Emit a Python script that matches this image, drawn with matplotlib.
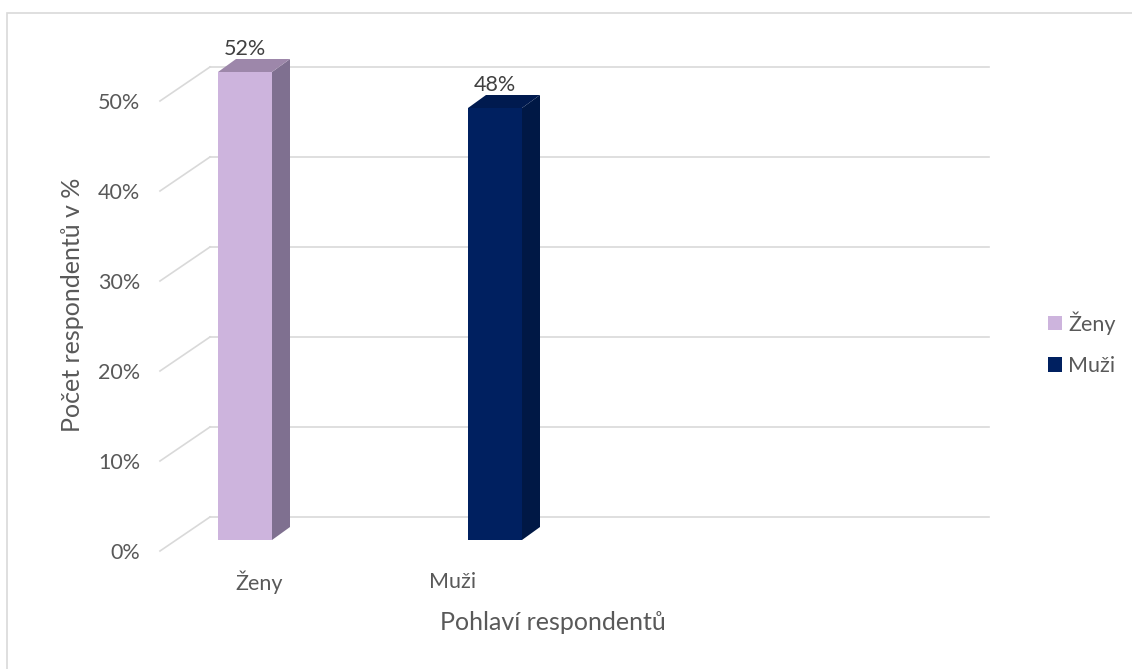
import numpy as np
import matplotlib.pyplot as plt
from matplotlib.patches import Polygon, Patch, Rectangle

plt.rcParams['font.family'] = ['Lato', 'DejaVu Sans']

categories = ["Ženy", "Muži"]
values = [52, 48]
value_labels = ["52%", "48%"]
ticks = [0, 10, 20, 30, 40, 50]
tick_labels = ["0%", "10%", "20%", "30%", "40%", "50%"]
x_title = "Pohlaví respondentů"
y_title = "Počet respondentů v %"

front_colors = ["#CDB4DD", "#002060"]
side_colors = ["#7F7090", "#001845"]
top_colors = ["#9D87AA", "#001A4F"]

text_color = "#595959"
grid_color = "#D9D9D9"
fs_small = 15.5
fs_title = 18

# pseudo-3d geometry (data units)
bar_w = 0.216
side_dx, side_dy = 0.072, 1.444
wall_x0, wall_x1 = -0.14, 2.976
wall_dy = 2.556
floor_x0, floor_dy = -0.34, -1.222
label_x = [0.056, 0.832]

fig = plt.figure(figsize=(11.32, 6.69), dpi=100)
ax = fig.add_axes([0, 0, 1, 1])
ax.set_xlim(-0.98, 3.548)
ax.set_ylim(-14.333, 60)
ax.axis("off")

# chart frame
fig.patches.append(Rectangle((7 / 1132, -0.1), 1.2, 1.1 - 13 / 669,
                             transform=fig.transFigure, fill=False,
                             edgecolor=grid_color, lw=1.2))

# back wall grid + side diagonals
for t, lab in zip(ticks, tick_labels):
    ax.plot([wall_x0, wall_x1], [t + wall_dy, t + wall_dy], color=grid_color, lw=1.2, zorder=1)
    ax.plot([floor_x0, wall_x0], [t + floor_dy, t + wall_dy], color=grid_color, lw=1.2, zorder=1)
    ax.text(-0.42, t + floor_dy - 0.2, lab, ha="right", va="center",
            fontsize=fs_small, color=text_color)

x = np.arange(len(categories))
ax.bar(x, values, width=bar_w, color=front_colors, zorder=3)

for xi, v, sc, tc, vl in zip(x, values, side_colors, top_colors, value_labels):
    r = xi + bar_w / 2
    l = xi - bar_w / 2
    ax.add_patch(Polygon([(r, 0), (r + side_dx, side_dy), (r + side_dx, v + side_dy), (r, v)],
                         closed=True, facecolor=sc, edgecolor="none", zorder=3))
    ax.add_patch(Polygon([(l, v), (r, v), (r + side_dx, v + side_dy), (l + side_dx, v + side_dy)],
                         closed=True, facecolor=tc, edgecolor="none", zorder=3))
    ax.text(xi, v + side_dy - 0.05, vl, ha="center", va="bottom",
            fontsize=fs_small, color="#404040")

for lx, c in zip(label_x, categories):
    ax.text(lx, -4.67, c, ha="center", va="center", fontsize=fs_small, color=text_color)

ax.text(1.232, -9.2, x_title, ha="center", va="center", fontsize=fs_title, color=text_color)
ax.text(-0.688, 26.1, y_title, ha="center", va="center", rotation=90,
        fontsize=fs_title, color=text_color)

handles = [Patch(facecolor=c, edgecolor="none") for c in front_colors]
leg = ax.legend(handles, categories, loc="center left", bbox_to_anchor=(0.926, 0.4865),
                frameon=False, fontsize=fs_small, handlelength=0.65, handleheight=0.65,
                handletextpad=0.28, labelspacing=1.0, borderpad=0, borderaxespad=0)
for t in leg.get_texts():
    t.set_color(text_color)

fig.savefig("out.png", dpi=100)
